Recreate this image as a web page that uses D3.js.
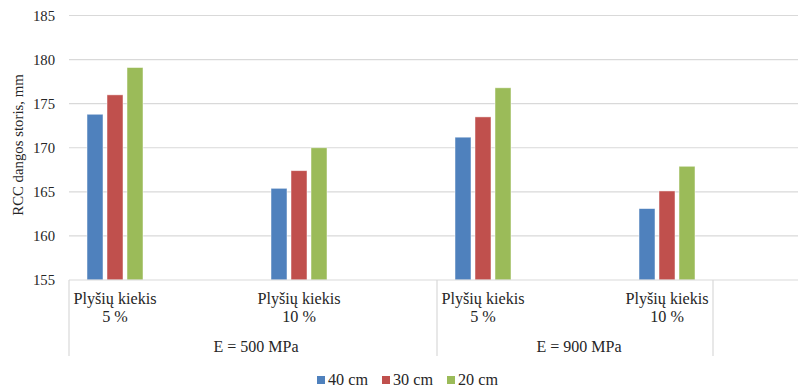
<!DOCTYPE html>
<html><head><meta charset="utf-8">
<script src="https://cdn.jsdelivr.net/npm/d3@7"></script>
<style>body{margin:0;background:#fff}</style>
</head><body><svg id="c" width="798" height="388" font-family="'Liberation Serif', 'DejaVu Serif', serif"></svg>
<script>
const categories = ["Plyšių kiekis|5 %", "Plyšių kiekis|10 %", "Plyšių kiekis|5 %", "Plyšių kiekis|10 %"];
const groups = ["E = 500 MPa", "E = 900 MPa"];
const series = ["40 cm", "30 cm", "20 cm"];
const s40 = [173.8, 165.4, 171.2, 163.1];
const s30 = [176.0, 167.4, 173.5, 165.1];
const s20 = [179.1, 170.0, 176.8, 167.9];
const yTicks = [155, 160, 165, 170, 175, 180, 185];
const colors = ["#4F81BD", "#C0504D", "#9BBB59"];

const values = [s40, s30, s20];
const svg = d3.select("#c");
const txt = "#262626";
const y = d3.scaleLinear().domain([155, 185]).range([280, 15.5]);
const x = d3.scaleBand().domain(d3.range(categories.length)).range([23, 759]);
const xs = d3.scaleBand().domain(series).range([-30, 30]).paddingInner(0.2).paddingOuter(0.1);

// gridlines
svg.append("g").selectAll("line").data(yTicks.slice(1)).join("line")
  .attr("x1", 69).attr("x2", 798).attr("y1", d => y(d)).attr("y2", d => y(d))
  .attr("stroke", "#d9d9d9").attr("stroke-width", 1.2);

// y tick labels
svg.append("g").selectAll("text").data(yTicks).join("text")
  .attr("x", 55).attr("y", d => y(d) + 5).attr("text-anchor", "end").attr("fill", txt)
  .attr("font-size", 14.7).text(d => d);

// y title
svg.append("text").attr("transform", "translate(23,145) rotate(-90)").attr("fill", txt)
  .attr("text-anchor", "middle").attr("font-size", 14.8).text("RCC dangos storis, mm");

// bars
series.forEach((s, si) => {
  svg.append("g").selectAll("rect").data(values[si]).join("rect")
    .attr("x", (d, i) => x(i) + x.bandwidth() / 2 + xs(s))
    .attr("width", xs.bandwidth())
    .attr("y", d => y(d)).attr("height", d => y(155) - y(d))
    .attr("fill", colors[si]).attr("stroke", "#ffffff").attr("stroke-opacity", 0.6).attr("stroke-width", 0.8);
});

// axis line
svg.append("line").attr("x1", 69).attr("x2", 798).attr("y1", 280).attr("y2", 280)
  .attr("stroke", "#d9d9d9").attr("stroke-width", 1.2);
// group separators
[69, 437, 713].forEach(v => {
  svg.append("line").attr("x1", v).attr("x2", v).attr("y1", 280).attr("y2", 356)
    .attr("stroke", "#d9d9d9").attr("stroke-width", 1.2);
});

// category labels
const cl = svg.append("g").selectAll("text").data(categories).join("text")
  .attr("text-anchor", "middle").attr("font-size", 16.2).attr("fill", txt);
cl.append("tspan").attr("x", (d, i) => x(i) + x.bandwidth() / 2).attr("y", 304).text(d => d.split("|")[0]);
cl.append("tspan").attr("x", (d, i) => x(i) + x.bandwidth() / 2).attr("y", 322).text(d => d.split("|")[1]);

// group labels
svg.append("g").selectAll("text").data(groups).join("text")
  .attr("x", (d, i) => i === 0 ? (69 + 437) / 2 + 3 : (437 + 713) / 2 + 4).attr("y", 352)
  .attr("text-anchor", "middle").attr("font-size", 16).attr("fill", txt).text(d => d);

// legend
const lx = [317, 382, 447];
const lg = svg.append("g").selectAll("g").data(series).join("g")
  .attr("transform", (d, i) => `translate(${lx[i]},376)`);
lg.append("rect").attr("width", 8).attr("height", 8).attr("fill", (d, i) => colors[i]);
lg.append("text").attr("x", 11).attr("y", 8.5).attr("font-size", 16.2).attr("fill", txt).text(d => d);
</script></body></html>
